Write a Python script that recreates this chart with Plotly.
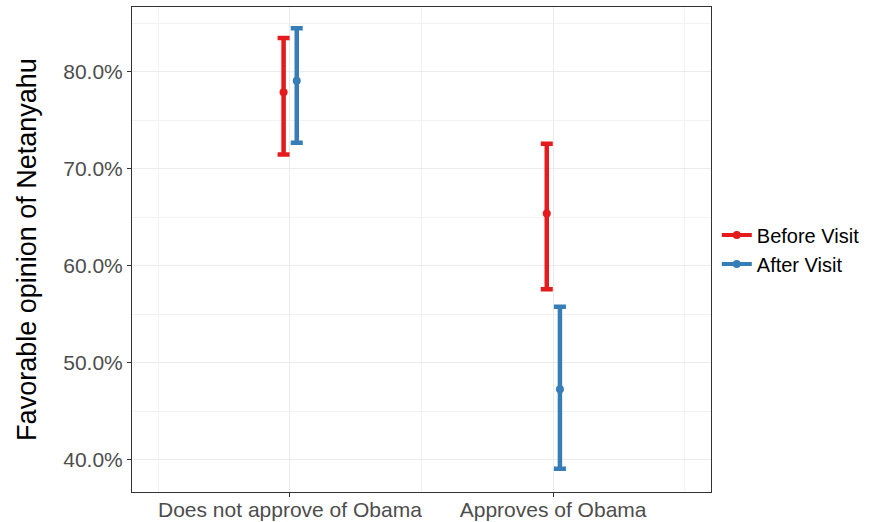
import plotly.graph_objects as go

# Survey groups and the two waves
categories = ["Does not approve of Obama", "Approves of Obama"]
series_names = ["Before Visit", "After Visit"]
series_colors = ["#E41A1C", "#377EB8"]

# Point estimates and confidence bounds (share favorable)
estimate = {
    "Before Visit": [0.779, 0.654],
    "After Visit": [0.791, 0.473],
}
upper = {
    "Before Visit": [0.835, 0.726],
    "After Visit": [0.845, 0.558],
}
lower = {
    "Before Visit": [0.715, 0.576],
    "After Visit": [0.727, 0.391],
}

dodge = [-0.024, 0.026]
font_family = "Liberation Sans, Arial, sans-serif"

fig = go.Figure()
for name, color, off in zip(series_names, series_colors, dodge):
    est = estimate[name]
    hi = upper[name]
    lo = lower[name]
    fig.add_trace(go.Scatter(
        x=[i + off for i in range(len(categories))],
        y=est,
        mode="markers",
        marker=dict(color=color, size=8),
        error_y=dict(
            type="data",
            symmetric=False,
            array=[h - e for h, e in zip(hi, est)],
            arrayminus=[e - l for e, l in zip(est, lo)],
            color=color,
            thickness=4.5,
            width=6,
        ),
        showlegend=False,
        name=name,
    ))
    # legend entry drawn as a line with a dot
    fig.add_trace(go.Scatter(
        x=[None], y=[None],
        mode="lines+markers",
        line=dict(color=color, width=4),
        marker=dict(color=color, size=8),
        name=name,
        showlegend=True,
    ))

fig.update_layout(
    width=869,
    height=522,
    margin=dict(l=132, r=158, t=7, b=30, autoexpand=False),
    paper_bgcolor="white",
    plot_bgcolor="white",
    font=dict(family=font_family, color="#4D4D4D"),
    legend=dict(
        x=1.01, y=0.5, xanchor="left", yanchor="middle",
        font=dict(size=20, color="black", family=font_family),
        bgcolor="rgba(0,0,0,0)",
        itemwidth=30,
        tracegroupgap=0,
    ),
    xaxis=dict(
        range=[-0.6, 1.6],
        tickmode="array",
        tickvals=list(range(len(categories))),
        ticktext=categories,
        tickfont=dict(size=21, color="#4D4D4D"),
        ticks="outside", ticklen=4, tickcolor="#333333",
        ticklabelstandoff=-5,
        showgrid=True, gridcolor="#EBEBEB", gridwidth=1,
        minor=dict(tickvals=[-0.5, 0.5, 1.5], showgrid=True,
                   gridcolor="#F2F2F2", gridwidth=1, ticks=""),
        showline=True, linecolor="#333333", linewidth=1, mirror=True,
        zeroline=False,
        automargin=False,
    ),
    yaxis=dict(
        range=[0.367, 0.867],
        tickvals=[0.4, 0.5, 0.6, 0.7, 0.8],
        tickformat=".1%",
        tickfont=dict(size=21, color="#4D4D4D"),
        ticks="outside", ticklen=4, tickcolor="#333333",
        showgrid=True, gridcolor="#EBEBEB", gridwidth=1,
        minor=dict(tickvals=[0.45, 0.55, 0.65, 0.75, 0.85], showgrid=True,
                   gridcolor="#F2F2F2", gridwidth=1, ticks=""),
        showline=True, linecolor="#333333", linewidth=1, mirror=True,
        zeroline=False,
        automargin=False,
        title=dict(text="Favorable opinion of Netanyahu",
                   font=dict(size=27, color="black"), standoff=18),
    ),
)

fig.write_html("out.html")
